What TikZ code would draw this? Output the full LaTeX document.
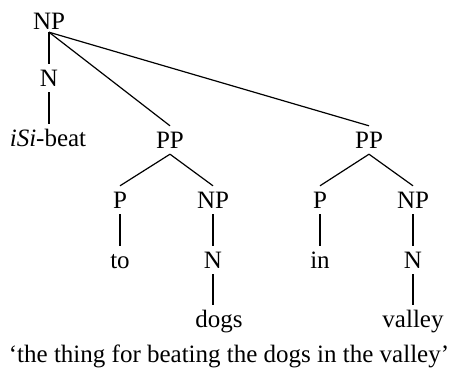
\documentclass[tikz,border=0pt]{standalone}
\usepackage{fontspec}
\setmainfont{Liberation Serif}
\begin{document}
\begin{tikzpicture}[x=1pt,y=-1pt,
  lbl/.style={anchor=base,inner xsep=0pt,inner ysep=6pt,text height=16pt,text depth=0pt,
    font=\fontsize{25}{30}\selectfont},
  rootlbl/.style={lbl,inner ysep=3pt},
  edge/.style={draw=black,line width=1.2pt}]
\useasboundingbox (0,0) rectangle (454,375);
% nodes
\node[rootlbl] (np0) at (49,29) {NP};
\node[lbl] (n0) at (49,86) {N};
\node[lbl] (isi) at (48,146) {\textit{iSi}-beat};
\node[lbl] (pp1) at (170,148) {PP};
\node[lbl] (p1) at (120,208) {P};
\node[lbl] (np1) at (213,208) {NP};
\node[lbl] (to) at (120,268) {to};
\node[lbl] (n1) at (213,268) {N};
\node[lbl] (dogs) at (219,327) {dogs};
\node[lbl] (pp2) at (369,148) {PP};
\node[lbl] (p2) at (320,208) {P};
\node[lbl] (np2) at (413,208) {NP};
\node[lbl] (in) at (320,268) {in};
\node[lbl] (n2) at (413,268) {N};
\node[lbl] (valley) at (413,327) {valley};
\node[lbl] (cap) at (229,362) {‘the thing for beating the dogs in the valley’};
% edges
\draw[edge] (np0.south) -- (n0.north);
\draw[edge] (n0.south) -- (isi.north -| n0.south);
\draw[edge] (np0.south) -- (pp1.north);
\draw[edge] (np0.south) -- (pp2.north);
\draw[edge] (pp1.south) -- (p1.north);
\draw[edge] (pp1.south) -- (np1.north);
\draw[edge] (p1.south) -- (to.north);
\draw[edge] (np1.south) -- (n1.north);
\draw[edge] (n1.south) -- (dogs.north -| n1.south);
\draw[edge] (pp2.south) -- (p2.north);
\draw[edge] (pp2.south) -- (np2.north);
\draw[edge] (p2.south) -- (in.north);
\draw[edge] (np2.south) -- (n2.north);
\draw[edge] (n2.south) -- (valley.north);
\end{tikzpicture}
\end{document}
